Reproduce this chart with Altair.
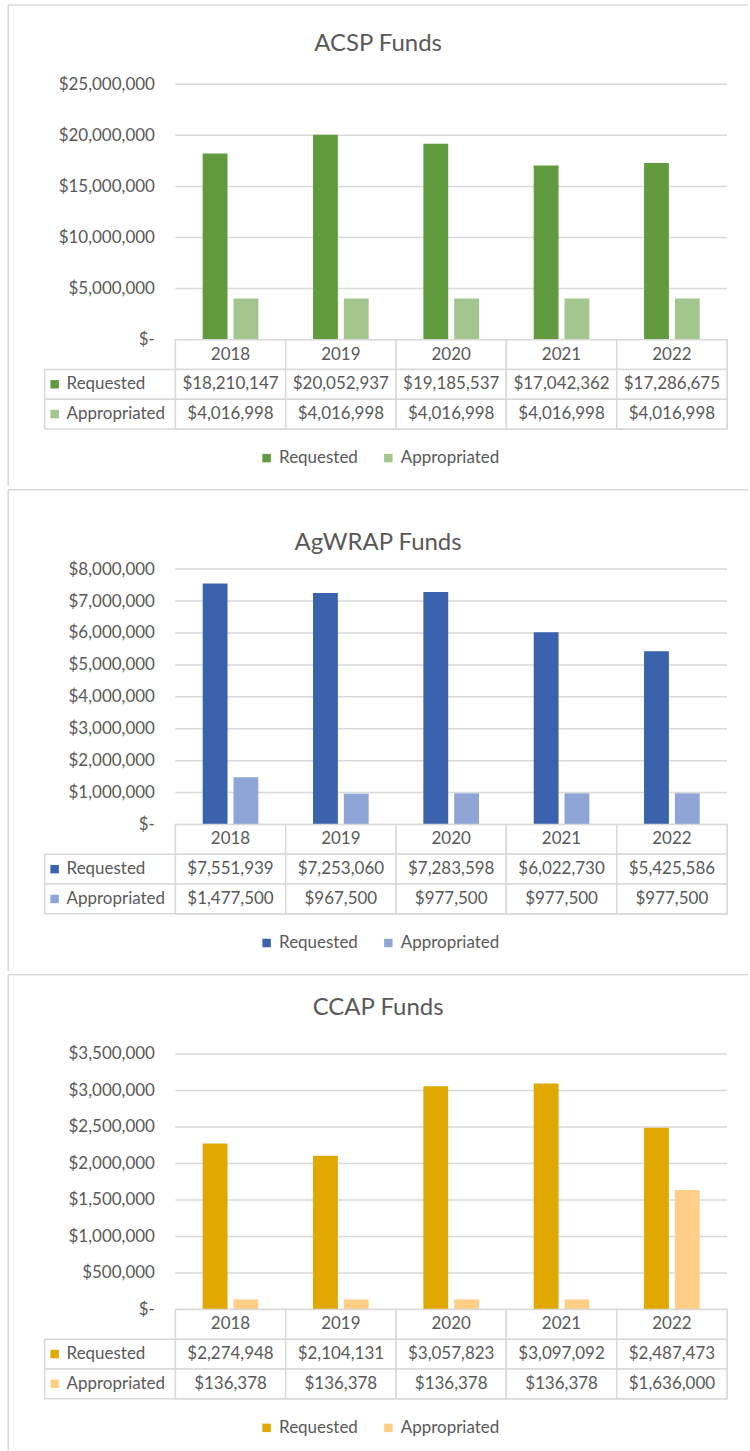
import altair as alt
import pandas as pd

# ---------------- data ----------------
years = ["2018", "2019", "2020", "2021", "2022"]
series = ["Requested", "Appropriated"]
rows = ["Year", "Requested", "Appropriated"]

acsp_requested = [18210147, 20052937, 19185537, 17042362, 17286675]
acsp_appropriated = [4016998, 4016998, 4016998, 4016998, 4016998]

agwrap_requested = [7551939, 7253060, 7283598, 6022730, 5425586]
agwrap_appropriated = [1477500, 967500, 977500, 977500, 977500]

ccap_requested = [2274948, 2104131, 3057823, 3097092, 2487473]
ccap_appropriated = [136378, 136378, 136378, 136378, 1636000]

acsp_ticks = [0, 5000000, 10000000, 15000000, 20000000, 25000000]
agwrap_ticks = [0, 1000000, 2000000, 3000000, 4000000, 5000000, 6000000, 7000000, 8000000]
ccap_ticks = [0, 500000, 1000000, 1500000, 2000000, 2500000, 3000000, 3500000]

acsp_colors = ["#619B3E", "#A3C58E"]
agwrap_colors = ["#3A62AD", "#8FA5D6"]
ccap_colors = ["#E0A800", "#FFCF87"]

# ---------------- style ----------------
FONT = "Lato"
TEXT = "#595959"
LINE = "#D9D9D9"
PLOT_W = 553
PLOT_H = 256
TABLE_H = 89.5
LABEL_W = 131
FS = 17


def panel(title, req, app, ticks, colors, frame_bottom, title_offset):
    bar_df = pd.DataFrame({
        "year": years * 2,
        "series": [series[0]] * len(years) + [series[1]] * len(years),
        "value": list(req) + list(app),
    })
    cell_df = pd.DataFrame({
        "year": years * 3,
        "row": [rows[0]] * len(years) + [rows[1]] * len(years) + [rows[2]] * len(years),
        "text": list(years) + [f"${v:,}" for v in req] + [f"${v:,}" for v in app],
    })
    label_df = pd.DataFrame({"row": series, "series": series})
    tick_df = pd.DataFrame({"tick": ticks})
    frame_df = pd.DataFrame({"k": [0]})

    x = alt.X("year:N", sort=years, scale=alt.Scale(paddingInner=0, paddingOuter=0), axis=None)
    yscale = alt.Scale(domain=[ticks[0], ticks[-1]], range=[PLOT_H, 0], nice=False, zero=True)
    color = alt.Color(
        "series:N",
        scale=alt.Scale(domain=series, range=colors),
        legend=alt.Legend(
            orient="none", legendX=83, legendY=366, direction="horizontal", title=None,
            symbolType="square", symbolSize=72, symbolStrokeWidth=0,
            labelFont=FONT, labelFontSize=FS, labelColor=TEXT, labelOffset=4,
            columnPadding=22, padding=0,
        ),
    )
    tab_y = alt.Y("row:N", sort=rows,
                  scale=alt.Scale(domain=rows, range=[PLOT_H, PLOT_H + TABLE_H],
                                  paddingInner=0, paddingOuter=0),
                  axis=None)

    top_rule = alt.Chart(frame_df).mark_rule(color=LINE, strokeWidth=1.5).encode(
        x=alt.value(-167.5), x2=alt.value(574), y=alt.value(-79.5))
    left_rule = alt.Chart(frame_df).mark_rule(color=LINE, strokeWidth=1.5).encode(
        x=alt.value(-167.5), y=alt.value(-79.5), y2=alt.value(frame_bottom))
    cover = alt.Chart(frame_df).mark_rect(fill="white", strokeWidth=0).encode(
        x=alt.value(-1), x2=alt.value(PLOT_W + 2), y=alt.value(-2), y2=alt.value(PLOT_H))

    grid = alt.Chart(tick_df).mark_rule(color=LINE, strokeWidth=1.5).encode(
        y=alt.Y("tick:Q", scale=yscale, axis=None),
        x=alt.value(0), x2=alt.value(PLOT_W),
    )

    bars = alt.Chart(bar_df).mark_bar().encode(
        x=x,
        xOffset=alt.XOffset("series:N", sort=series,
                            scale=alt.Scale(paddingInner=0.194, paddingOuter=0.887)),
        y=alt.Y("value:Q", scale=yscale,
                axis=alt.Axis(values=ticks, grid=False, domain=False, ticks=False, title=None,
                              labelFont=FONT, labelFontSize=FS, labelColor=TEXT,
                              labelPadding=21,
                              labelExpr="datum.value == 0 ? '$-\u00a0\u00a0' : format(datum.value, '$,')")),
        color=color,
    )

    cells = alt.Chart(cell_df).mark_rect(fill="white", stroke=LINE, strokeWidth=1.5).encode(
        x=x, y=tab_y)
    cell_text = alt.Chart(cell_df).mark_text(font=FONT, fontSize=FS, color=TEXT).encode(
        x=x, y=tab_y, text="text:N")

    label_cells = alt.Chart(label_df).mark_rect(fill="white", stroke=LINE, strokeWidth=1.5).encode(
        x=alt.value(-LABEL_W), x2=alt.value(0), y=tab_y)
    label_sq = alt.Chart(label_df).mark_square(size=72, opacity=1).encode(
        x=alt.value(-121), y=tab_y, color=color)
    label_text = alt.Chart(label_df).mark_text(font=FONT, fontSize=FS, color=TEXT, align="left").encode(
        x=alt.value(-109), y=tab_y, text="row:N")

    return alt.layer(
        top_rule, left_rule, cover, grid, bars, cells, cell_text, label_cells, label_sq, label_text
    ).resolve_scale(y="independent").properties(
        width=PLOT_W,
        height=PLOT_H + TABLE_H,
        title=alt.TitleParams(title, font=FONT, fontSize=24, fontWeight="normal",
                              color=TEXT, anchor="middle", frame="bounds", offset=title_offset),
    )


p1 = panel("ACSP Funds", acsp_requested, acsp_appropriated, acsp_ticks, acsp_colors, 403, -52)
p2 = panel("AgWRAP Funds", agwrap_requested, agwrap_appropriated, agwrap_ticks, agwrap_colors, 403, -66)
p3 = panel("CCAP Funds", ccap_requested, ccap_appropriated, ccap_ticks, ccap_colors, 397, -46)

chart = alt.vconcat(p1, p2, p3, spacing=0).resolve_scale(
    color="independent"
).properties(
    padding={"left": 6.75, "top": 1.75, "right": 0, "bottom": 0},
    background="white",
).configure_view(stroke=None).configure(font=FONT)

chart.save("out.html", embed_options={"renderer": "svg", "actions": False})
